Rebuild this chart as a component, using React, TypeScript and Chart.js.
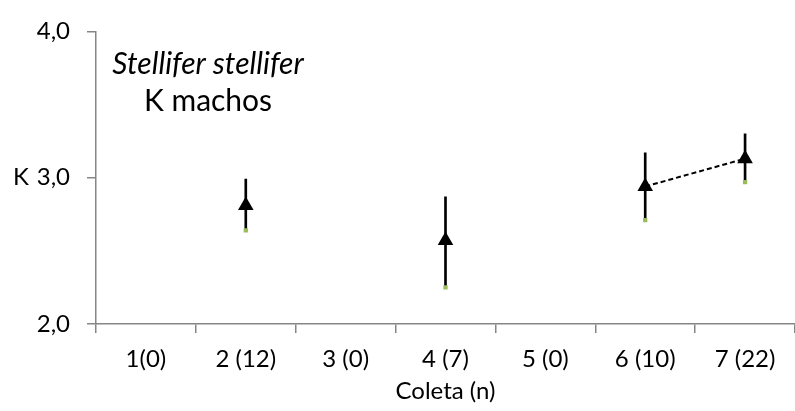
import React, { useEffect, useRef } from "react";
import { Chart, registerables } from "chart.js";

Chart.register(...registerables);

const categories = ["1(0)", "2 (12)", "3 (0)", "4 (7)", "5 (0)", "6 (10)", "7 (22)"];
const meanK: (number | null)[] = [null, 2.81, null, 2.57, null, 2.94, 3.13];
const upperK: (number | null)[] = [null, 2.99, null, 2.87, null, 3.17, 3.3];
const lowerK: (number | null)[] = [null, 2.64, null, 2.25, null, 2.71, 2.97];
const yMin = 2;
const yMax = 4;
const yStep = 1;
const titleLines = ["Stellifer stellifer", "K machos"];
const yAxisLabel = "K";
const xAxisLabel = "Coleta (n)";

const FONT = "Lato, 'Open Sans', sans-serif";
const AXIS_COLOR = "#868686";

const textPlugin = {
  id: "extraTexts",
  afterDraw(chart: any) {
    const ctx = chart.ctx;
    const yScale = chart.scales.y;
    ctx.save();
    ctx.fillStyle = "#000";
    ctx.textAlign = "center";
    ctx.textBaseline = "alphabetic";
    ctx.font = `italic 30px ${FONT}`;
    ctx.fillText(titleLines[0], 208, 74);
    ctx.font = `30px ${FONT}`;
    ctx.fillText(titleLines[1], 208, 111);
    ctx.textAlign = "left";
    ctx.textBaseline = "middle";
    ctx.font = `24px ${FONT}`;
    ctx.fillText(yAxisLabel, 13, yScale.getPixelForValue(3));
    ctx.restore();
  },
};

export default function App() {
  const ref = useRef<HTMLCanvasElement | null>(null);

  useEffect(() => {
    if (!ref.current) return;
    const barData = categories.map((_, i) =>
      lowerK[i] == null || upperK[i] == null ? null : [lowerK[i] as number, upperK[i] as number]
    );
    const chart = new Chart(ref.current, {
      type: "bar",
      data: {
        labels: categories,
        datasets: [
          {
            type: "line",
            label: "K médio",
            data: meanK,
            borderColor: "#000",
            backgroundColor: "#000",
            borderWidth: 2,
            borderDash: [5, 3],
            pointStyle: "triangle",
            pointRadius: 9,
            pointBorderWidth: 0,
            pointBackgroundColor: "#000",
            spanGaps: false,
            order: 0,
          } as any,
          {
            type: "line",
            label: "mínimo",
            data: lowerK,
            showLine: false,
            pointStyle: "rect",
            pointRadius: 3,
            pointBorderWidth: 0,
            pointBackgroundColor: "#9BBB59",
            order: 1,
          } as any,
          {
            type: "bar",
            label: "desvio",
            data: barData as any,
            backgroundColor: "#000",
            barThickness: 2,
            order: 2,
          } as any,
        ],
      },
      options: {
        responsive: false,
        animation: false,
        layout: { padding: { left: 0, top: 22, right: 2, bottom: 0 } },
        plugins: {
          legend: { display: false },
          tooltip: { enabled: false },
        },
        scales: {
          x: {
            type: "category",
            offset: true,
            grid: {
              offset: true,
              drawOnChartArea: false,
              drawTicks: true,
              tickLength: 9,
              color: AXIS_COLOR,
              lineWidth: 1.5,
            },
            border: { display: true, color: AXIS_COLOR, width: 1.5 },
            ticks: {
              color: "#000",
              font: { family: FONT, size: 24 },
              padding: 12,
              maxRotation: 0,
              autoSkip: false,
            },
            title: {
              display: true,
              text: xAxisLabel,
              color: "#000",
              font: { family: FONT, size: 24 },
              padding: { top: 0, bottom: 5 },
            },
            afterFit: (scale: any) => {
              scale.height = 87;
            },
          },
          y: {
            min: yMin,
            max: yMax,
            grid: {
              drawOnChartArea: false,
              drawTicks: true,
              tickLength: 9,
              color: AXIS_COLOR,
              lineWidth: 1.5,
            },
            border: { display: true, color: AXIS_COLOR, width: 1.5 },
            ticks: {
              stepSize: yStep,
              color: "#000",
              font: { family: FONT, size: 24 },
              padding: 17,
              callback: (v: any) => Number(v).toFixed(1).replace(".", ","),
            },
            afterFit: (scale: any) => {
              scale.width = 96;
            },
          },
        },
      },
      plugins: [textPlugin],
    });
    return () => chart.destroy();
  }, []);

  return (
    <div
      style={{
        position: "fixed",
        left: 0,
        top: 0,
        width: 795,
        height: 411,
        overflow: "hidden",
        background: "#fff",
      }}
    >
      <canvas ref={ref} width={804} height={411} style={{ display: "block" }} />
    </div>
  );
}
